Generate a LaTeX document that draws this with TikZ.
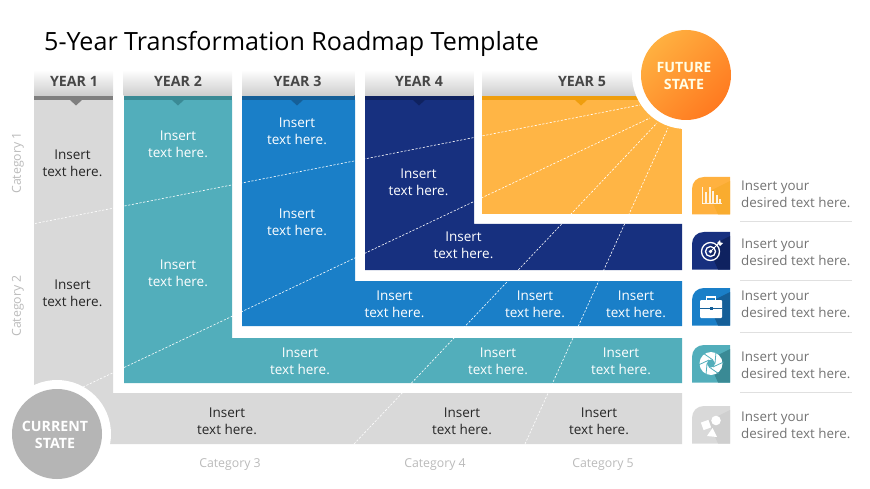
\documentclass[tikz,border=0pt]{standalone}
\usepackage{fontspec}
\setmainfont{Open Sans}
\definecolor{gy}{HTML}{D9D9D9}\definecolor{gyb}{HTML}{7F7F7F}
\definecolor{te}{HTML}{52AEBB}\definecolor{teb}{HTML}{3A8A95}
\definecolor{bl}{HTML}{1A7FC8}\definecolor{blb}{HTML}{155F98}
\definecolor{na}{HTML}{17307F}\definecolor{nab}{HTML}{0F2260}
\definecolor{ye}{HTML}{FFB545}\definecolor{yeb}{HTML}{EF9E0E}
\definecolor{fa}{HTML}{FFB040}\definecolor{fb}{HTML}{FF7A20}
\tikzset{
 x=1pt,y=-1pt,
 ins/.style={font=\fontsize{13.5}{17}\selectfont,align=center,inner sep=0pt},
 insw/.style={ins,text=white},
 insd/.style={ins,text=black!85},
 yr/.style={font=\fontsize{14.2}{16}\selectfont\bfseries,text=black!72,inner sep=0pt,anchor=base},
 cat/.style={font=\fontsize{12.3}{14}\selectfont,text=black!27,inner sep=0pt},
 dsh/.style={draw=white,dash pattern=on 2.2pt off 1.6pt,line width=0.6pt},
 side/.style={font=\fontsize{13.4}{17}\selectfont,align=left,text=black!55,inner sep=0pt,anchor=west},
 sep/.style={draw=black!12,line width=0.7pt},
 circ/.style={font=\fontsize{14.2}{17}\selectfont\bfseries,align=center,text=white,inner sep=0pt},
}
\newcommand{\yearhead}[7]{% x1 x2 notchx barcolor label name labelx
 \fill[top color=white,bottom color=black!20] (#1,70) rectangle (#2,96);
 \fill[#4] (#1,96) rectangle (#2,100.5);
 \fill[#4] (#3-6,100) -- (#3+6,100) -- (#3,105.5) -- cycle;
 \node[yr] (#6) at (#7,86.5) {#5};
}
\newcommand{\iconbox}[3]{% top main dark
 \fill[#2] (692,#1+37.5) -- (692,#1+12) .. controls (692,#1+5) and (697,#1) .. (704,#1) -- (730,#1) -- (730,#1+37.5) -- cycle;
 \fill[#3] (730,#1+4) -- (708,#1+15) -- (718,#1+37.5) -- (730,#1+37.5) -- cycle;
}
\begin{document}
\begin{tikzpicture}
\useasboundingbox (0,0) rectangle (870,489);
\node[font=\fontsize{25.1}{30}\selectfont,text=black,anchor=west,inner sep=0pt] (title) at (44,43.5) {5-Year Transformation Roadmap Template};
% L shapes
\fill[gy] (34,100) -- (113,100) -- (113,393) -- (682,393) -- (682,444) -- (34,444) -- cycle;
\fill[te] (124,100) -- (232,100) -- (232,338) -- (682,338) -- (682,383) -- (124,383) -- cycle;
\fill[bl] (242,100) -- (355,100) -- (355,281) -- (682,281) -- (682,326) -- (242,326) -- cycle;
\fill[na] (365,100) -- (474,100) -- (474,224) -- (682,224) -- (682,270) -- (365,270) -- cycle;
\fill[ye] (482,100) rectangle (682,214);
% radial dashes
\coordinate (c1) at (35,223.5); \coordinate (f1) at (640,105);
\coordinate (c2) at (83,387);   \coordinate (f2) at (650,118);
\coordinate (c3) at (354,444);  \coordinate (f3) at (657,123);
\coordinate (c4) at (525,444);  \coordinate (f4) at (668,128);
\draw[dsh] (c1) -- (f1);
\draw[dsh] (c2) -- (f2);
\draw[dsh] (c3) -- (f3);
\draw[dsh] (c4) -- (f4);
% headers
\yearhead{34}{113}{76}{gyb}{YEAR 1}{y1}{74}
\yearhead{123.5}{232}{178}{teb}{YEAR 2}{y2}{178}
\yearhead{242}{354.5}{297}{blb}{YEAR 3}{y3}{297.5}
\yearhead{365}{473.5}{419}{nab}{YEAR 4}{y4}{419}
\yearhead{482}{660}{581}{yeb}{YEAR 5}{y5}{582}
% circles
\fill[white] (57,434) circle[radius=54];
\node[circle,fill=black!29,minimum size=90pt,inner sep=0pt] (cur) at (57,434) {};
\node[circ] at (55,434.5) {CURRENT\\STATE};
\fill[white] (686,75) circle[radius=54];
\node[circle,minimum size=90pt,inner sep=0pt,top color=fa,bottom color=fb,shading angle=45] (fut) at (686,75) {};
\node[circ,text=white!90!yellow] at (684,76.5) {FUTURE\\STATE};
% gray texts
\node[insd] (t1) at (72.5,163) {Insert\\text here.};
\node[insd] (t2) at (72.5,293.5) {Insert\\text here.};
\node[insd] (t3) at (227,421.5) {Insert\\text here.};
\node[insd] (t4) at (462,421.5) {Insert\\text here.};
\node[insd] (t5) at (599,421.5) {Insert\\text here.};
% teal
\node[insw] (t6) at (178,144.5) {Insert\\text here.};
\node[insw] (t7) at (178,273.5) {Insert\\text here.};
\node[insw] (t8) at (300,361) {Insert\\text here.};
\node[insw] (t9) at (498,361) {Insert\\text here.};
\node[insw] (t10) at (621,361) {Insert\\text here.};
% blue
\node[insw] (t11) at (297,131) {Insert\\text here.};
\node[insw] (t12) at (297,222.5) {Insert\\text here.};
\node[insw] (t13) at (394.5,304.5) {Insert\\text here.};
\node[insw] (t14) at (535,304.5) {Insert\\text here.};
\node[insw] (t15) at (636,304.5) {Insert\\text here.};
% navy
\node[insw] (t16) at (418.5,182) {Insert\\text here.};
\node[insw] (t17) at (463.5,245.5) {Insert\\text here.};
% categories
\node[cat,rotate=90] (k1) at (18,163) {Category 1};
\node[cat,rotate=90] (k2) at (18,306) {Category 2};
\node[cat] (k3) at (230,464.5) {Category 3};
\node[cat] (k4) at (435,464.5) {Category 4};
\node[cat] (k5) at (603,464.5) {Category 5};
% side icons
\iconbox{177}{ye!92!orange}{ye!60!yeb}
\iconbox{232}{na}{nab}
\iconbox{288}{bl}{blb}
\iconbox{345}{te}{teb}
\iconbox{406}{gy}{black!19}
% icon 1: chart
\fill[white,opacity=.85] (702,203) rectangle (722,204.2);
\fill[white,opacity=.85] (702,187) rectangle (703.2,204);
\foreach \a/\b in {705/192,708.5/187,712/191,715.5/195,719/199}{\fill[white,opacity=.85] (\a,\b) rectangle (\a+2.4,203);}
% icon 2: target
\draw[white,line width=1.3pt] (710.5,251.5) circle[radius=9];
\draw[white,line width=1.3pt] (710.5,251.5) circle[radius=5];
\fill[white] (710.5,251.5) circle[radius=1.8];
\draw[white,line width=1pt] (710.5,251.5) -- (719,243);
\fill[white] (717,243) -- (720,240) -- (720.5,242.5) -- (723,243) -- (720,246) -- cycle;
% icon 3: briefcase
\fill[white,rounded corners=1pt] (700,300) rectangle (722,318);
\draw[white,line width=1.2pt] (706.5,300) -- (706.5,297) -- (715.5,297) -- (715.5,300);
\draw[blb,line width=.7pt] (700,308) -- (722,308);
\fill[blb] (709.5,307) rectangle (712.5,310);
% icon 4: aperture
\fill[white] (711,363.5) circle[radius=11.5];
\fill[te] (711,363.5) circle[radius=4];
\foreach \r in {0,60,...,300}{\draw[te,line width=.8pt,rotate around={\r:(711,363.5)}] (715,363.5) -- (716,352);}
% icon 5: shapes
\fill[white,rotate around={20:(706,425)}] (702,421) rectangle (710,429);
\fill[white] (716,420.5) circle[radius=4.8];
\fill[white] (712.5,428) -- (717,437) -- (707,436) -- cycle;
% side text
\foreach \yy/\nm in {194/s1,252/s2,304/s3,365/s4,425/s5}{\node[side] (\nm) at (741,\yy) {Insert your\\desired text here.};}
% separators
\foreach \yy/\nn in {221/a,280/b,332/c,392/d}{
 \coordinate (l\nn) at (740,\yy); \coordinate (r\nn) at (852,\yy);
 \draw[sep] (l\nn) -- (r\nn);}
\end{tikzpicture}
\end{document}
